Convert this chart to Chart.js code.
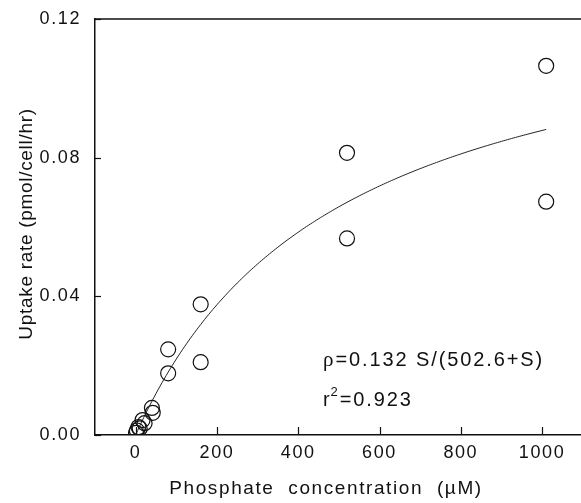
<!DOCTYPE html>
<html>
<head>
<meta charset="utf-8">
<script src="https://cdn.jsdelivr.net/npm/chart.js@4.4.0/dist/chart.umd.min.js"></script>
<style>
  html, body { margin:0; padding:0; background:#fff; overflow:hidden; }
  #wrap { width:581px; height:503px; overflow:hidden; }
</style>
</head>
<body>
<div id="wrap"><canvas id="chart" width="589" height="503"></canvas></div>
<script>
// measured points (uM, pmol/cell/hr)
const concX = [1, 3, 7, 10, 17, 22, 40, 42, 80, 80, 160, 160, 520, 520, 1010, 1010];
const uptakeY = [0.0006, 0.0013, 0.0023, 0.0019, 0.0043, 0.0034, 0.0078, 0.0064, 0.0178, 0.0247, 0.0210, 0.0377, 0.0567, 0.0814, 0.0673, 0.1065];

// fitted Michaelis-Menten parameters, as printed on the chart
const vmax = 0.132;
const km = 502.6;
const fitEnd = 1010;

const xTicks = [0, 200, 400, 600, 800, 1000];
const yTicks = [0, 0.04, 0.08, 0.12];

const fitLine = [];
for (let s = 0; s <= fitEnd; s += 5) fitLine.push({ x: s, y: vmax * s / (km + s) });

const font = "'Liberation Sans', Arial, sans-serif";

const framePlugin = {
    id: 'frame',
    beforeDraw(chart) {
        chart.ctx.letterSpacing = '1.6px';
    },
    afterDraw(chart) {
        const ctx = chart.ctx;
        const a = chart.chartArea;
        const xs = chart.scales.x, ys = chart.scales.y;
        ctx.save();
        ctx.strokeStyle = '#111';
        ctx.lineWidth = 1.5;
        // top frame line
        ctx.beginPath();
        ctx.moveTo(a.left, a.top);
        ctx.lineTo(a.right + 2, a.top);
        ctx.stroke();
        // inward ticks
        ctx.lineWidth = 1.2;
        xTicks.forEach(v => {
            const px = Math.round(xs.getPixelForValue(v)) + 0.5;
            ctx.beginPath();
            ctx.moveTo(px, a.bottom);
            ctx.lineTo(px, a.bottom - 8);
            ctx.stroke();
        });
        yTicks.forEach(v => {
            const py = Math.round(ys.getPixelForValue(v)) + 0.5;
            ctx.beginPath();
            ctx.moveTo(a.left, py);
            ctx.lineTo(a.left + 6, py);
            ctx.stroke();
        });

        ctx.fillStyle = '#111';
        ctx.textBaseline = 'alphabetic';

        // y axis title
        ctx.save();
        ctx.letterSpacing = '0.7px';
        ctx.font = '19px ' + font;
        ctx.textAlign = 'center';
        ctx.translate(32, 224);
        ctx.rotate(-Math.PI / 2);
        ctx.fillText('Uptake rate (pmol/cell/hr)', 0, 0);
        ctx.restore();

        // x axis title
        ctx.letterSpacing = '1.6px';
        ctx.font = '19px ' + font;
        ctx.textAlign = 'center';
        ctx.fillText('Phosphate  concentration  (\u00b5M)', 326, 494);

        // fit annotation
        ctx.letterSpacing = '1.9px';
        ctx.textAlign = 'left';
        let x0 = 323;
        ctx.font = "21px 'Liberation Serif', serif";
        ctx.fillText('\u03c1', x0, 366);
        x0 += ctx.measureText('\u03c1').width;
        ctx.font = '20px ' + font;
        ctx.fillText('=0.132 S/(502.6+S)', x0, 366);

        ctx.fillText('r', 323, 406);
        let rw = ctx.measureText('r').width;
        ctx.font = '13px ' + font;
        ctx.fillText('2', 323 + rw - 1, 396);
        let sw = ctx.measureText('2').width;
        ctx.font = '20px ' + font;
        ctx.fillText('=0.923', 323 + rw + sw - 1, 406);
        ctx.restore();
    }
};

new Chart(document.getElementById('chart').getContext('2d'), {
    type: 'scatter',
    data: {
        datasets: [
            {
                type: 'line',
                data: fitLine,
                borderColor: '#222',
                borderWidth: 1,
                pointRadius: 0,
                fill: false,
                tension: 0
            },
            {
                data: concX.map((x, i) => ({ x: x, y: uptakeY[i] })),
                pointRadius: 7.5,
                pointBorderWidth: 1.2,
                pointBorderColor: '#111',
                pointBackgroundColor: 'rgba(0,0,0,0)'
            }
        ]
    },
    plugins: [framePlugin],
    options: {
        responsive: false,
        animation: false,
        layout: { padding: { top: 19, right: 0, left: 0, bottom: 0 } },
        plugins: { legend: { display: false }, tooltip: { enabled: false } },
        scales: {
            x: {
                type: 'linear',
                min: -100,
                max: 1094,
                afterBuildTicks: s => { s.ticks = xTicks.map(v => ({ value: v })); },
                afterFit: s => { s.height = 68; s.paddingLeft = 0; s.paddingRight = 0; },
                grid: { display: false, drawTicks: false },
                border: { display: true, color: '#111', width: 1.5 },
                ticks: { color: '#111', font: { family: font, size: 18 }, padding: 7, maxRotation: 0,
                         callback: v => String(v) }
            },
            y: {
                min: 0,
                max: 0.12,
                afterBuildTicks: s => { s.ticks = yTicks.map(v => ({ value: v })); },
                afterFit: s => { s.width = 95; s.paddingTop = 0; s.paddingBottom = 0; },
                grid: { display: false, drawTicks: false },
                border: { display: true, color: '#111', width: 1.5 },
                ticks: { color: '#111', font: { family: font, size: 18 }, padding: 14,
                         callback: v => v.toFixed(2) }
            }
        }
    }
});
</script>
</body>
</html>
